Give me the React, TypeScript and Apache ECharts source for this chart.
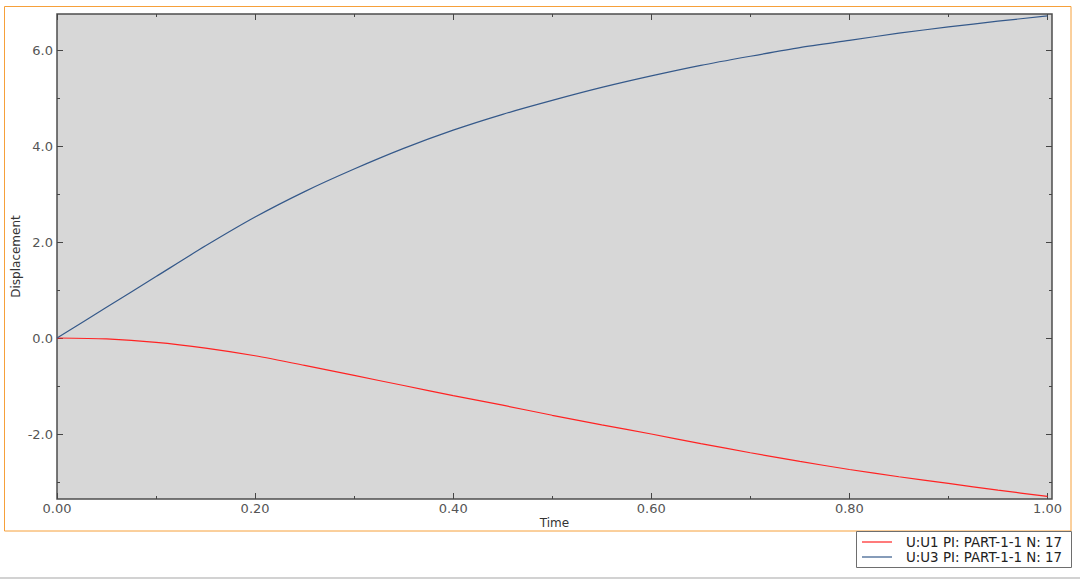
import React, { useEffect, useRef } from "react";
import * as echarts from "echarts";

const timeValues = [0, 0.05, 0.1, 0.15, 0.2, 0.25, 0.3, 0.35, 0.4, 0.45, 0.5, 0.55, 0.6, 0.65, 0.7, 0.75, 0.8, 0.85, 0.9, 0.95, 1.0];
const u1Values = [0, -0.02, -0.09, -0.21, -0.37, -0.57, -0.78, -0.99, -1.2, -1.4, -1.61, -1.81, -2.0, -2.2, -2.39, -2.57, -2.74, -2.89, -3.03, -3.17, -3.3];
const u3Values = [0, 0.64, 1.28, 1.92, 2.52, 3.05, 3.52, 3.95, 4.33, 4.66, 4.95, 5.22, 5.46, 5.68, 5.87, 6.05, 6.2, 6.35, 6.48, 6.6, 6.71];

const xMajorTicks = [0, 0.2, 0.4, 0.6, 0.8, 1.0];
const xMinorTicks = [0.1, 0.3, 0.5, 0.7, 0.9];
const yMajorTicks = [-2, 0, 2, 4, 6];
const yMinorTicks = [-3, -1, 1, 3, 5];

const seriesNames = ["U:U1 PI: PART-1-1 N: 17", "U:U3 PI: PART-1-1 N: 17"];
const seriesColors = ["#ff2323", "#35598a"];

const FONT = "DejaVu Sans";
const TICK = "#454545";

function xAx(position: string, ticks: number[], len: number, labels: boolean) {
  return {
    type: "value",
    position,
    min: 0,
    max: 1.0046,
    axisLine: { show: false, onZero: false },
    splitLine: { show: false },
    axisTick: { show: true, inside: true, length: len, customValues: ticks, lineStyle: { color: TICK, width: 1 } },
    axisLabel: labels
      ? { show: true, customValues: ticks, formatter: (v: number) => v.toFixed(2), color: "#555", fontFamily: FONT, fontSize: 13, margin: 3 }
      : { show: false },
    name: labels ? "Time" : "",
    nameLocation: "middle",
    nameGap: 18,
    nameMoveOverlap: false,
    nameTextStyle: { color: "#333", fontFamily: FONT, fontSize: 12 },
  };
}

function yAx(position: string, ticks: number[], len: number, labels: boolean) {
  return {
    type: "value",
    position,
    min: -3.354,
    max: 6.75,
    axisLine: { show: false, onZero: false },
    splitLine: { show: false },
    axisTick: { show: true, inside: true, length: len, customValues: ticks, lineStyle: { color: TICK, width: 1 } },
    axisLabel: labels
      ? { show: true, customValues: ticks, formatter: (v: number) => v.toFixed(1), color: "#555", fontFamily: FONT, fontSize: 13, margin: 4 }
      : { show: false },
    name: labels ? "Displacement" : "",
    nameLocation: "middle",
    nameGap: 35,
    nameMoveOverlap: false,
    nameRotate: 90,
    nameTextStyle: { color: "#333", fontFamily: FONT, fontSize: 12 },
  };
}

export default function App() {
  const ref = useRef<HTMLDivElement>(null);
  useEffect(() => {
    if (!ref.current) return;
    const chart = echarts.init(ref.current, undefined, { renderer: "svg" });
    const toPairs = (vals: number[]) => timeValues.map((t, i) => [t, vals[i]]);
    chart.setOption({
      animation: false,
      textStyle: { fontFamily: FONT },
      grid: {
        left: 57,
        top: 14,
        right: 28,
        bottom: 80,
        show: true,
        backgroundColor: "#d7d7d7",
        borderColor: "#4d4d4d",
        borderWidth: 1.5,
      },
      xAxis: [
        xAx("bottom", xMajorTicks, 6, true),
        xAx("bottom", xMinorTicks, 3, false),
        xAx("top", xMajorTicks, 6, false),
        xAx("top", xMinorTicks, 3, false),
      ],
      yAxis: [
        yAx("left", yMajorTicks, 6, true),
        yAx("left", yMinorTicks, 3, false),
        yAx("right", yMajorTicks, 6, false),
        yAx("right", yMinorTicks, 3, false),
      ],
      series: [
        {
          type: "line",
          name: seriesNames[0],
          data: toPairs(u1Values),
          showSymbol: false,
          smooth: 0.25,
          lineStyle: { color: seriesColors[0], width: 1.2 },
          itemStyle: { color: seriesColors[0] },
        },
        {
          type: "line",
          name: seriesNames[1],
          data: toPairs(u3Values),
          showSymbol: false,
          smooth: 0.25,
          lineStyle: { color: seriesColors[1], width: 1.2 },
          itemStyle: { color: seriesColors[1] },
        },
      ],
      graphic: [
        {
          type: "rect",
          shape: { x: 4.5, y: 6.5, width: 1066.5, height: 524.5 },
          style: { fill: "none", stroke: "#f6a03a", lineWidth: 1 },
          silent: true,
        },
        {
          type: "rect",
          shape: { x: 0, y: 577, width: 1080, height: 2 },
          style: { fill: "#d2d2d2" },
          silent: true,
        },
        {
          type: "rect",
          shape: { x: 856.5, y: 531.5, width: 215, height: 36 },
          style: { fill: "#ffffff", stroke: "#6e6e6e", lineWidth: 1 },
          silent: true,
        },
        {
          type: "line",
          shape: { x1: 862, y1: 542, x2: 892, y2: 542 },
          style: { stroke: seriesColors[0], lineWidth: 1.2 },
        },
        {
          type: "line",
          shape: { x1: 862, y1: 557, x2: 892, y2: 557 },
          style: { stroke: seriesColors[1], lineWidth: 1.2 },
        },
        {
          type: "text",
          x: 906,
          y: 542,
          style: { text: seriesNames[0], fill: "#222", font: `13.4px "${FONT}"`, textVerticalAlign: "middle", verticalAlign: "middle" },
        },
        {
          type: "text",
          x: 906,
          y: 557,
          style: { text: seriesNames[1], fill: "#222", font: `13.4px "${FONT}"`, textVerticalAlign: "middle", verticalAlign: "middle" },
        },
      ],
    });
    return () => chart.dispose();
  }, []);
  return <div ref={ref} style={{ position: "fixed", left: 0, top: 0, width: 1080, height: 579, background: "#fff" }} />;
}
